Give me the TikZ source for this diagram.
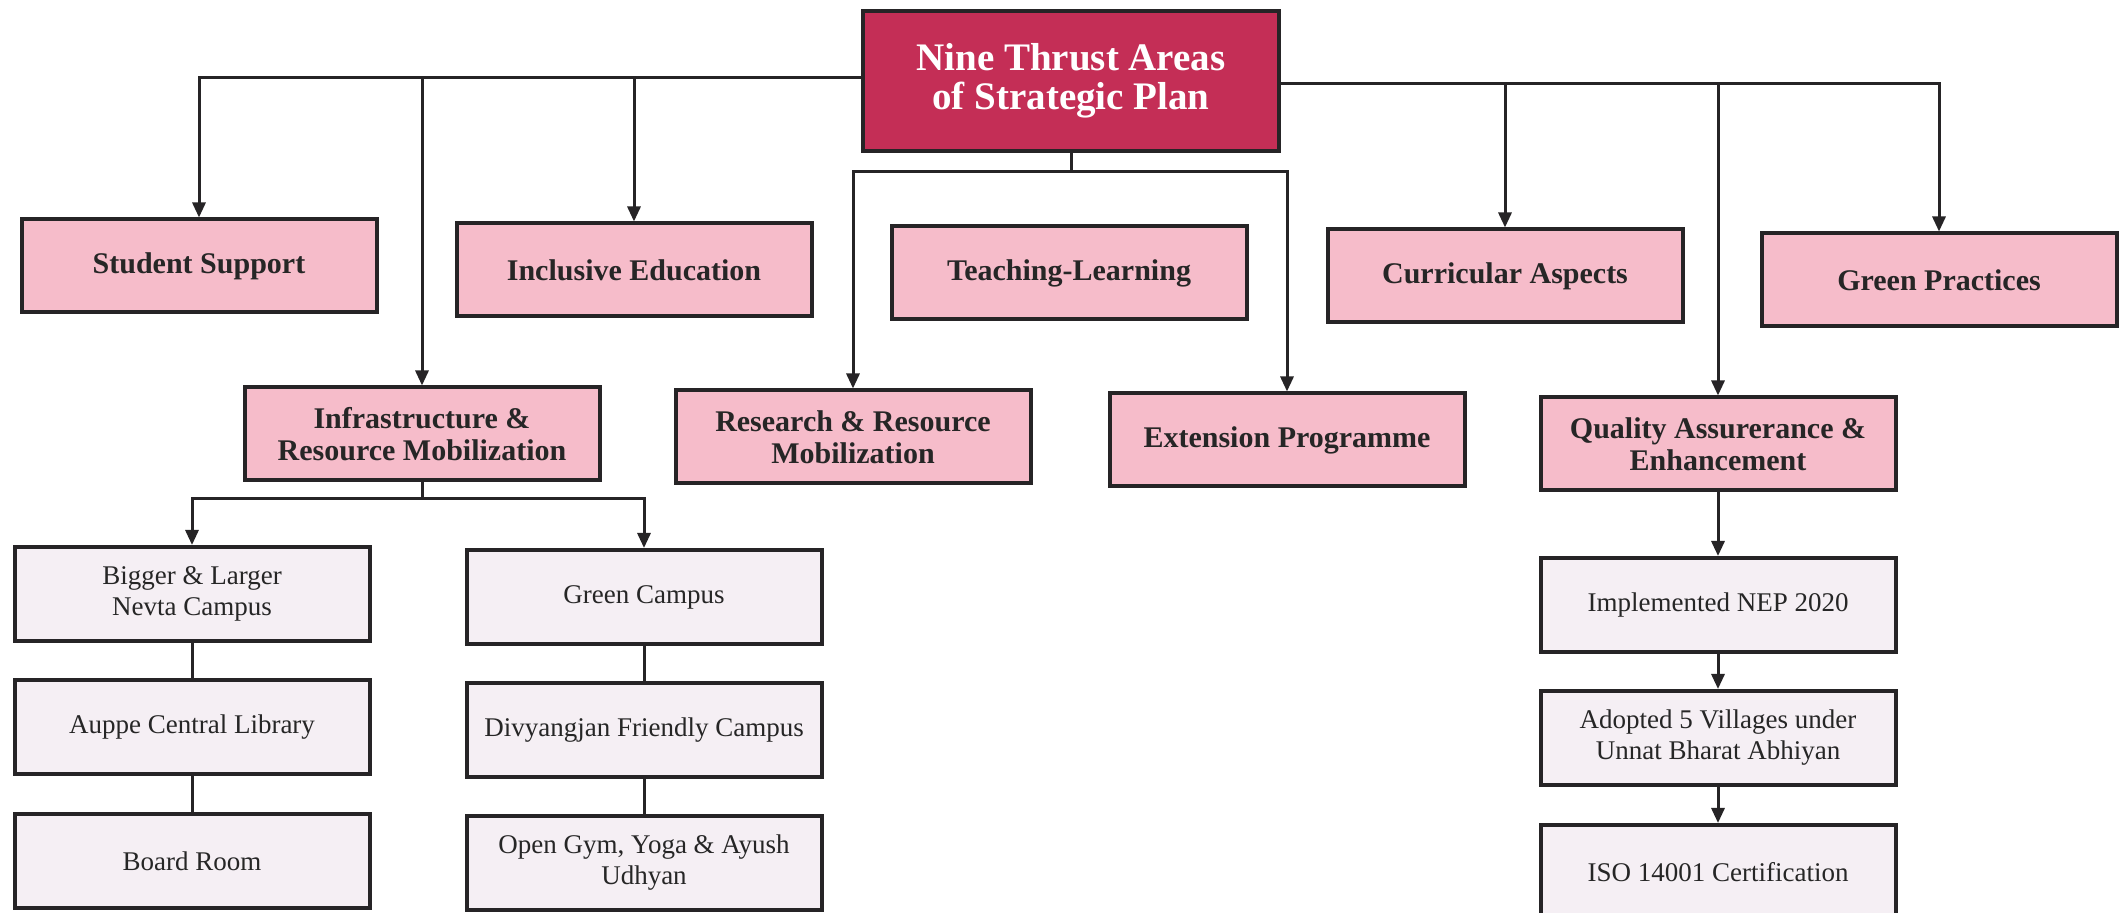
\documentclass[tikz,border=0pt]{standalone}
\usepackage{fontspec}
\setmainfont{Liberation Serif}
\usepackage{tikz}
\usetikzlibrary{arrows.meta,positioning,calc}
\definecolor{thrustred}{RGB}{196,46,86}
\definecolor{areapink}{RGB}{246,188,202}
\definecolor{itemgrey}{RGB}{245,239,244}
\definecolor{linegrey}{RGB}{38,36,38}

\begin{document}
\begin{tikzpicture}[x=0.5pt,y=-0.5pt,>={Triangle[length=7.5pt,width=6.5pt]}, semithick,
      thrust/.style={rectangle,draw=linegrey,line width=2pt,fill=thrustred,text=white,
        minimum width=208pt,minimum height=70pt,inner sep=0pt,align=center,
        font=\fontsize{19.5}{19.5}\selectfont\bfseries},
      area/.style={rectangle,draw=linegrey,line width=2pt,fill=areapink,text=black!85,
        minimum width=177.5pt,minimum height=46.5pt,inner sep=0pt,align=center,
        font=\fontsize{15}{16}\selectfont\bfseries},
      item/.style={rectangle,draw=linegrey,line width=2pt,fill=itemgrey,text=black!85,
        minimum width=177.5pt,minimum height=47pt,inner sep=0pt,align=center,
        font=\fontsize{13.5}{15.5}\selectfont},
      link/.style={line width=1.5pt,draw=linegrey}]
      \fill[white] (0,0) rectangle (2121,913);
      \useasboundingbox (0,0) rectangle (2121,913);
      \node[thrust] (nine) at (1071,81) {Nine Thrust Areas\\of Strategic Plan};
      \node[area] (stud) at (199,266) {Student Support};
      \node[area] (incl) at (634,270) {Inclusive Education};
      \node[area] (teach) at (1069,273) {Teaching-Learning};
      \node[area] (curr) at (1505,276) {Curricular Aspects};
      \node[area] (green) at (1939,280) {Green Practices};
      \node[area] (infra) at (422,434) {Infrastructure \&\\Resource Mobilization};
      \node[area] (resr) at (853,437) {Research \& Resource\\Mobilization};
      \node[area] (ext) at (1287,440) {Extension Programme};
      \node[area] (qual) at (1718,444) {Quality Assurerance \&\\Enhancement};
      \node[item] (nevta) at (192,594) {Bigger \& Larger\\Nevta Campus};
      \node[item] (lib) at (192,727) {Auppe Central Library};
      \node[item] (board) at (192,861) {Board Room};
      \node[item] (gcamp) at (644,597) {Green Campus};
      \node[item] (divy) at (644,730) {Divyangjan Friendly Campus};
      \node[item] (gym) at (644,863) {Open Gym, Yoga \& Ayush\\Udhyan};
      \node[item] (nep) at (1718,605) {Implemented NEP 2020};
      \node[item] (ubha) at (1718,738) {Adopted 5 Villages under\\Unnat Bharat Abhiyan};
      \node[item] (iso) at (1718,872) {ISO 14001 Certification};
      \draw[link,->] ([yshift=1.5pt]nine.west) -| (stud.north);
      \draw[link,->] ([yshift=1.5pt]nine.west) -| (infra.north);
      \draw[link,->] ([yshift=1.5pt]nine.west) -| (incl.north);
      \draw[link,->] ([yshift=-1.5pt]nine.east) -| (curr.north);
      \draw[link,->] ([yshift=-1.5pt]nine.east) -| (qual.north);
      \draw[link,->] ([yshift=-1.5pt]nine.east) -| (green.north);
      \draw[link,->] (nine.south) -- ++(0,19) -| (resr.north);
      \draw[link,->] (nine.south) -- ++(0,19) -| (ext.north);
      \draw[link,->] (infra.south) -- ++(0,16) -| (nevta.north);
      \draw[link,->] (infra.south) -- ++(0,16) -| (gcamp.north);
      \draw[link] (nevta.south) -- (lib.north);
      \draw[link] (lib.south) -- (board.north);
      \draw[link] (gcamp.south) -- (divy.north);
      \draw[link] (divy.south) -- (gym.north);
      \draw[link,->] (qual.south) -- (nep.north);
      \draw[link,->] (nep.south) -- (ubha.north);
      \draw[link,->] (ubha.south) -- (iso.north);
    \end{tikzpicture}
\end{document}
